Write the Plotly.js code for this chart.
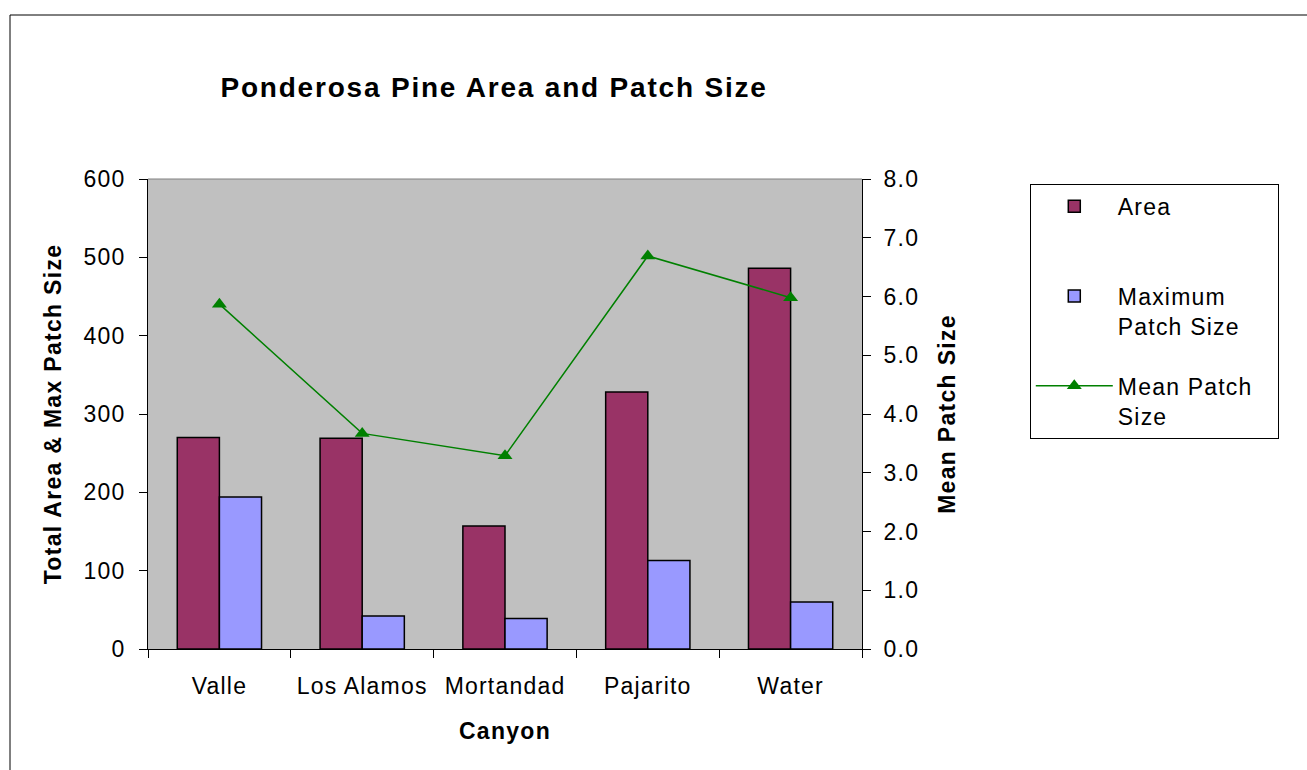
<!DOCTYPE html>
<html><head><meta charset="utf-8">
<script src="https://cdn.plot.ly/plotly-3.0.1.min.js"></script>
<style>
body{margin:0;background:#fff}
#chart{width:1307px;height:770px}
#chart .gtitle{letter-spacing:1.8px}
#chart .xtitle,#chart .ytitle,#chart .y2title{letter-spacing:1.3px}
#chart .xtick text,#chart .ytick text,#chart .y2tick text{letter-spacing:1.2px}
#chart .legendtext{letter-spacing:1.2px}
</style>
</head><body><div id="chart"></div>
<script>
const canyons = ["Valle", "Los Alamos", "Mortandad", "Pajarito", "Water"];
const areaValues = [270, 269, 157, 328, 486];
const maxPatchValues = [194, 42, 39, 113, 60];
const meanPatchValues = [5.87, 3.67, 3.29, 6.69, 5.98];
const leftTicks = [0, 100, 200, 300, 400, 500, 600];
const rightTicks = [0, 1, 2, 3, 4, 5, 6, 7, 8];

const font = "Liberation Sans, Arial, sans-serif";
const traces = [
  {type: "bar", name: "Area<br>&#160;", x: canyons, y: areaValues, legendgroup: "a",
   marker: {color: "#993366", line: {color: "#000", width: 1.5}}},
  {type: "bar", name: "Maximum<br>Patch Size", x: canyons, y: maxPatchValues, legendgroup: "b",
   marker: {color: "#9999FF", line: {color: "#000", width: 1.5}}},
  {type: "scatter", mode: "lines+markers", name: "Mean Patch&#160;&#160;&#160;&#160;&#160;<br>Size", x: canyons, y: meanPatchValues,
   yaxis: "y2", legendgroup: "c",
   line: {color: "#008000", width: 1.5},
   marker: {symbol: "triangle-up", size: 13, color: "#008000"}}
];
const layout = {
  width: 1307, height: 770,
  margin: {l: 148, r: 445, t: 179, b: 121},
  paper_bgcolor: "#fff", plot_bgcolor: "#C0C0C0",
  font: {family: font, size: 23, color: "#000"},
  title: {text: "<b>Ponderosa Pine Area and Patch Size</b>", font: {family: font, size: 28},
          x: 0.378, xref: "container", y: 0.887, yref: "container", yanchor: "middle"},
  barmode: "group", bargap: 0.41, bargroupgap: 0,
  showlegend: true,
  legend: {x: 1.235, xanchor: "left", y: 0.99, yanchor: "top",
           bordercolor: "#000", borderwidth: 1, bgcolor: "#fff", valign: "top",
           itemwidth: 77,
           font: {family: font, size: 23}, tracegroupgap: 27, traceorder: "grouped"},
  xaxis: {type: "category", tickson: "boundaries", ticks: "outside", ticklen: 8, tickcolor: "#000",
          showline: true, linecolor: "#000", linewidth: 1, showgrid: false,
          tickfont: {family: font, size: 23}, ticklabelstandoff: 16,
          title: {text: "<b>Canyon</b>", font: {family: font, size: 23}, standoff: 25}},
  yaxis: {range: [0, 600], tickvals: leftTicks, ticks: "outside", ticklen: 8, tickcolor: "#000",
          showline: true, linecolor: "#000", linewidth: 1, showgrid: false, zeroline: false,
          tickfont: {family: font, size: 23}, ticklabelstandoff: 9,
          title: {text: "<b>Total Area &amp; Max Patch Size</b>", font: {family: font, size: 23}, standoff: 18}},
  yaxis2: {range: [0, 8], tickvals: rightTicks, tickformat: ".1f", overlaying: "y", side: "right",
           ticks: "outside", ticklen: 8, tickcolor: "#000",
           showline: true, linecolor: "#000", linewidth: 1, showgrid: false, zeroline: false,
           tickfont: {family: font, size: 23}, ticklabelstandoff: 8,
           title: {text: "<b>Mean Patch Size</b>", font: {family: font, size: 23}, standoff: 24}},
  shapes: [
    {type: "line", xref: "paper", yref: "paper", x0: 0, x1: 1, y0: 1, y1: 1,
     line: {color: "#808080", width: 1}, layer: "above"},
    {type: "rect", xref: "paper", yref: "paper",
     x0: -138/714, x1: 1.63, y0: 1 + 164/470, y1: -0.27,
     line: {color: "#000", width: 1}, fillcolor: "rgba(0,0,0,0)"}
  ]
};
Plotly.newPlot("chart", traces, layout, {displayModeBar: false});
</script></body></html>
